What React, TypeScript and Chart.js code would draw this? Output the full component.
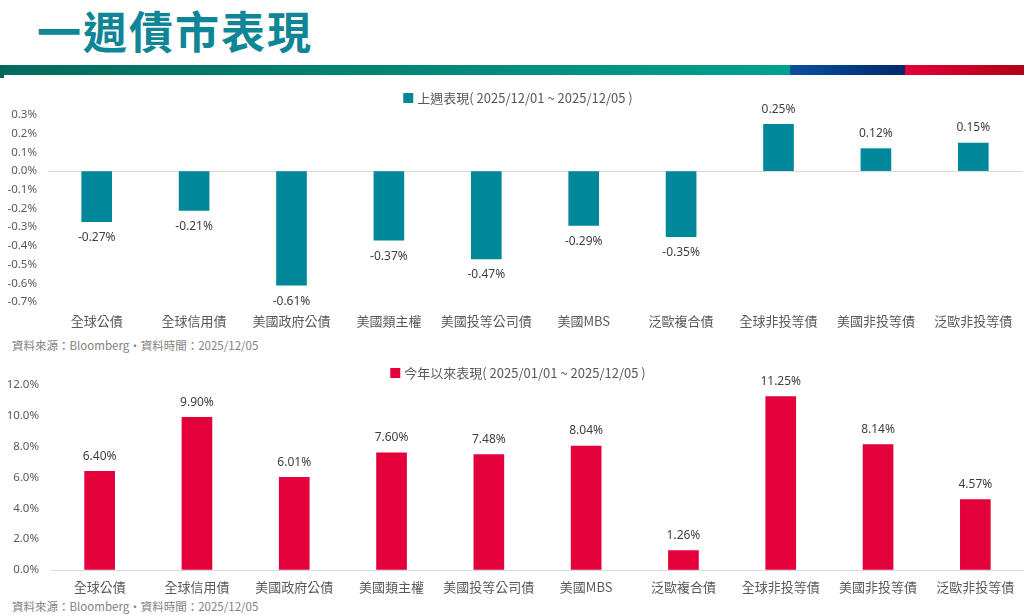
import React, { useEffect, useRef } from "react";
import { Chart, registerables } from "chart.js";

Chart.register(...registerables);

const categories = [
  "全球公債",
  "全球信用債",
  "美國政府公債",
  "美國類主權",
  "美國投等公司債",
  "美國MBS",
  "泛歐複合債",
  "全球非投等債",
  "美國非投等債",
  "泛歐非投等債",
];
const weeklyValues = [-0.27, -0.21, -0.61, -0.37, -0.47, -0.29, -0.35, 0.25, 0.12, 0.15];
const ytdValues = [6.4, 9.9, 6.01, 7.6, 7.48, 8.04, 1.26, 11.25, 8.14, 4.57];
const weeklyLabel = "上週表現( 2025/12/01 ~ 2025/12/05 )";
const ytdLabel = "今年以來表現( 2025/01/01 ~ 2025/12/05 )";
const weeklyAxis = [-0.7, 0.3, 0.1];
const ytdAxis = [0, 12, 2];
const title = "一週債市表現";
const sourceText = "資料來源：Bloomberg•資料時間：2025/12/05";

const FONT = '"Noto Sans", "Noto Sans CJK TC", sans-serif';
const CJK = '"Noto Sans CJK TC", "Noto Sans", sans-serif';

const valueLabels = {
  id: "valueLabels",
  afterDatasetsDraw(chart: any) {
    const ctx = chart.ctx;
    const meta = chart.getDatasetMeta(0);
    const data = chart.data.datasets[0].data as number[];
    ctx.save();
    ctx.font = `12px ${FONT}`;
    ctx.fillStyle = "#404040";
    ctx.textAlign = "center";
    ctx.textBaseline = "middle";
    meta.data.forEach((el: any, i: number) => {
      const v = data[i];
      const y = v >= 0 ? el.y - 15 : el.y + 16;
      ctx.fillText(v.toFixed(2) + "%", el.x, y);
    });
    ctx.restore();
  },
};

const topLegend = {
  id: "topLegend",
  afterDraw(chart: any, _args: any, opts: any) {
    const ctx = chart.ctx;
    const ds = chart.data.datasets[0];
    const y = chart.chartArea.top - opts.offset;
    ctx.save();
    ctx.font = `13px ${CJK}`;
    const tw = ctx.measureText(ds.label).width;
    const box = 10;
    const gap = 4;
    const total = box + gap + tw;
    const x0 = opts.center - total / 2;
    ctx.fillStyle = ds.backgroundColor;
    ctx.fillRect(x0, y - box / 2, box, box);
    ctx.fillStyle = "#595959";
    ctx.textAlign = "left";
    ctx.textBaseline = "middle";
    ctx.fillText(ds.label, x0 + box + gap, y + 0.5);
    ctx.restore();
  },
};

function makeConfig(
  values: number[],
  label: string,
  color: string,
  axis: number[],
  opts: {
    yWidth: number;
    xHeight: number;
    xPad: number;
    padTop: number;
    legendOffset: number;
    right: number;
    labelRight: number;
  }
): any {
  return {
    type: "bar",
    data: {
      labels: categories,
      datasets: [
        {
          label,
          data: values,
          backgroundColor: color,
          borderWidth: 0,
          barThickness: 30,
        },
      ],
    },
    options: {
      responsive: true,
      maintainAspectRatio: false,
      animation: false,
      layout: { padding: { left: 0, right: opts.right, top: opts.padTop, bottom: 0 } },
      plugins: {
        legend: { display: false },
        tooltip: { enabled: false },
        topLegend: { offset: opts.legendOffset, center: 518 },
      },
      scales: {
        x: {
          grid: { display: false, drawTicks: false },
          border: { display: false },
          ticks: {
            color: "#595959",
            font: { family: CJK, size: 13 },
            padding: opts.xPad,
            maxRotation: 0,
            autoSkip: false,
          },
          afterFit(scale: any) {
            scale.height = opts.xHeight;
          },
        },
        y: {
          min: axis[0],
          max: axis[1],
          grid: {
            drawTicks: false,
            color: (c: any) =>
              c.tick && Math.abs(c.tick.value) < 1e-9 ? "#d9d9d9" : "rgba(0,0,0,0)",
            lineWidth: 1,
          },
          border: { display: false },
          ticks: {
            stepSize: axis[2],
            color: "#595959",
            font: { family: FONT, size: 11.5 },
            padding: opts.yWidth - opts.labelRight,
            callback: (v: any) => {
              const r = Math.round(Number(v) * 10) / 10;
              return (r === 0 ? 0 : r).toFixed(1) + "%";
            },
          },
          afterFit(scale: any) {
            scale.width = opts.yWidth;
          },
        },
      },
    },
    plugins: [valueLabels, topLegend],
  };
}

export default function App() {
  const topRef = useRef<HTMLCanvasElement | null>(null);
  const botRef = useRef<HTMLCanvasElement | null>(null);

  useEffect(() => {
    const c1 = new Chart(
      topRef.current as HTMLCanvasElement,
      makeConfig(weeklyValues, weeklyLabel, "#00889a", weeklyAxis, {
        yWidth: 48,
        xHeight: 35,
        xPad: 11,
        padTop: 32,
        legendOffset: 17,
        right: 2,
        labelRight: 37,
      })
    );
    const c2 = new Chart(
      botRef.current as HTMLCanvasElement,
      makeConfig(ytdValues, ytdLabel, "#e4003a", ytdAxis, {
        yWidth: 51,
        xHeight: 25,
        xPad: 9,
        padTop: 23,
        legendOffset: 12,
        right: 0,
        labelRight: 39,
      })
    );
    return () => {
      c1.destroy();
      c2.destroy();
    };
  }, []);

  return (
    <div
      style={{
        position: "absolute",
        left: 0,
        top: 0,
        width: 1024,
        height: 615,
        background: "#ffffff",
        overflow: "hidden",
        fontFamily: CJK,
      }}
    >
      <div
        style={{
          position: "absolute",
          left: 37,
          top: 3,
          fontSize: 44,
          fontWeight: 700,
          color: "#0f8696",
          lineHeight: "54px",
          letterSpacing: 2,
          whiteSpace: "nowrap",
        }}
      >
        {title}
      </div>
      <div
        style={{
          position: "absolute",
          left: 0,
          top: 65,
          width: 790,
          height: 10,
          background: "linear-gradient(90deg, #006b5c 0%, #00a08f 100%)",
        }}
      />
      <div
        style={{
          position: "absolute",
          left: 0,
          top: 65,
          width: 4,
          height: 13,
          background: "#006458",
        }}
      />
      <div
        style={{
          position: "absolute",
          left: 790,
          top: 65,
          width: 115,
          height: 10,
          background: "linear-gradient(90deg, #0a50a0 0%, #00286a 100%)",
        }}
      />
      <div
        style={{
          position: "absolute",
          left: 905,
          top: 65,
          width: 119,
          height: 10,
          background: "linear-gradient(90deg, #e4003a 0%, #b00015 100%)",
        }}
      />
      <div style={{ position: "absolute", left: 0, top: 83, width: 1024, height: 254 }}>
        <canvas ref={topRef} />
      </div>
      <div
        style={{
          position: "absolute",
          left: 12,
          top: 337,
          fontSize: 11.5,
          color: "#7f7f7f",
          whiteSpace: "nowrap",
        }}
      >
        {sourceText}
      </div>
      <div style={{ position: "absolute", left: 0, top: 362, width: 1024, height: 233 }}>
        <canvas ref={botRef} />
      </div>
      <div
        style={{
          position: "absolute",
          left: 12,
          top: 598,
          fontSize: 11.5,
          color: "#7f7f7f",
          whiteSpace: "nowrap",
        }}
      >
        {sourceText}
      </div>
    </div>
  );
}
